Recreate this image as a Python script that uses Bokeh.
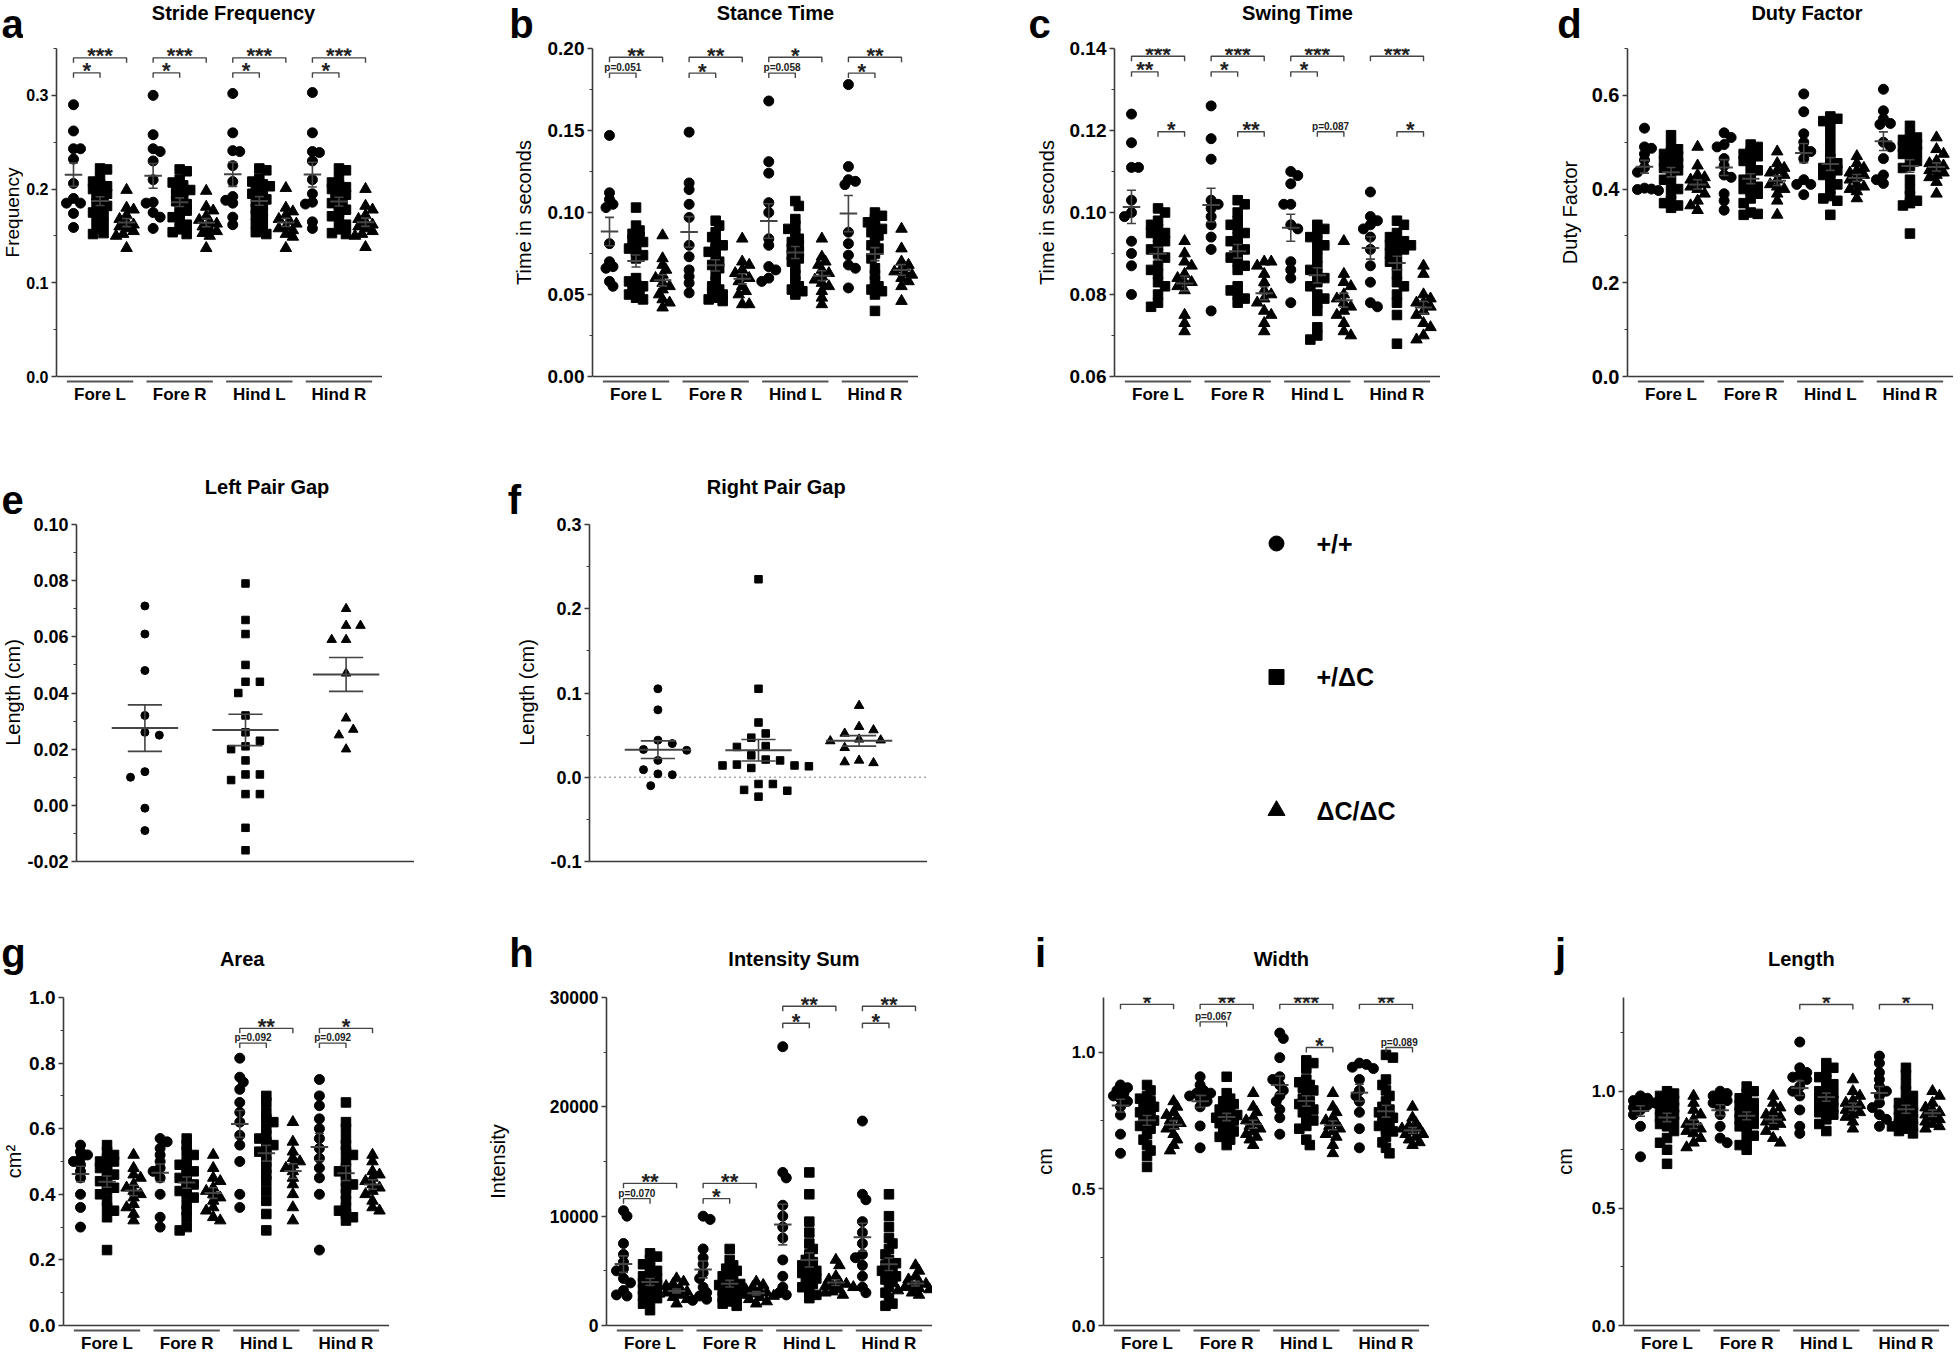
import numpy as np
from bokeh.plotting import figure
from bokeh.models import Range1d, FixedTicker, Span
from bokeh.layouts import row, column
from bokeh.core.properties import value
from bokeh.embed import file_html
from bokeh.resources import INLINE

FONT = "Liberation Sans"
GROUPS = ["Fore L", "Fore R", "Hind L", "Hind R"]
GENOTYPES = ["+/+", "+/ΔC", "ΔC/ΔC"]
MARKERS = ["circle", "square", "triangle"]

# ---------------- a: Stride Frequency ----------------
stride_wt = [
    [0.290, 0.262, 0.243, 0.243, 0.232, 0.206, 0.190, 0.185, 0.185, 0.174, 0.159],
    [0.300, 0.258, 0.243, 0.240, 0.230, 0.210, 0.186, 0.185, 0.175, 0.170, 0.158],
    [0.302, 0.260, 0.241, 0.240, 0.225, 0.208, 0.192, 0.188, 0.185, 0.170, 0.162],
    [0.303, 0.260, 0.240, 0.239, 0.230, 0.210, 0.195, 0.186, 0.184, 0.165, 0.158],
]
stride_het = [
    [0.222, 0.221, 0.212, 0.208, 0.205, 0.203, 0.200, 0.198, 0.195, 0.192, 0.188, 0.185, 0.182, 0.178, 0.175, 0.172, 0.168, 0.163, 0.158, 0.153, 0.152],
    [0.221, 0.219, 0.210, 0.207, 0.204, 0.201, 0.199, 0.197, 0.194, 0.190, 0.187, 0.184, 0.181, 0.177, 0.174, 0.170, 0.166, 0.162, 0.157, 0.154, 0.152],
    [0.222, 0.220, 0.211, 0.208, 0.205, 0.203, 0.201, 0.198, 0.195, 0.192, 0.189, 0.186, 0.183, 0.179, 0.176, 0.172, 0.168, 0.163, 0.158, 0.154, 0.152],
    [0.222, 0.220, 0.212, 0.207, 0.204, 0.202, 0.200, 0.197, 0.194, 0.191, 0.188, 0.185, 0.182, 0.178, 0.175, 0.171, 0.167, 0.162, 0.157, 0.153, 0.152],
]
stride_hom = [
    [0.199, 0.180, 0.178, 0.172, 0.168, 0.165, 0.162, 0.160, 0.158, 0.155, 0.152, 0.150, 0.137],
    [0.198, 0.181, 0.177, 0.171, 0.167, 0.165, 0.163, 0.160, 0.157, 0.155, 0.153, 0.150, 0.137],
    [0.201, 0.180, 0.176, 0.172, 0.168, 0.166, 0.163, 0.160, 0.158, 0.156, 0.152, 0.149, 0.137],
    [0.200, 0.182, 0.178, 0.172, 0.168, 0.165, 0.162, 0.160, 0.158, 0.155, 0.152, 0.150, 0.138],
]
stride_ticks = [0.0, 0.1, 0.2, 0.3]
stride_labels = ["0.0", "0.1", "0.2", "0.3"]
stride_sig = [(0, 0, 2, 0.340, "***"), (0, 0, 1, 0.324, "*"), (1, 0, 2, 0.340, "***"), (1, 0, 1, 0.324, "*"),
              (2, 0, 2, 0.340, "***"), (2, 0, 1, 0.324, "*"), (3, 0, 2, 0.340, "***"), (3, 0, 1, 0.324, "*")]

# ---------------- b: Stance Time ----------------
stance_wt = [
    [0.147, 0.112, 0.108, 0.105, 0.103, 0.081, 0.070, 0.067, 0.066, 0.058, 0.055],
    [0.149, 0.118, 0.114, 0.105, 0.097, 0.080, 0.073, 0.065, 0.061, 0.057, 0.051],
    [0.168, 0.131, 0.124, 0.106, 0.100, 0.084, 0.080, 0.067, 0.065, 0.060, 0.058],
    [0.178, 0.128, 0.120, 0.119, 0.117, 0.088, 0.081, 0.074, 0.068, 0.066, 0.054],
]
stance_het = [
    [0.103, 0.092, 0.089, 0.087, 0.085, 0.083, 0.082, 0.080, 0.078, 0.076, 0.074, 0.072, 0.060, 0.058, 0.056, 0.055, 0.053, 0.051, 0.050, 0.048, 0.047],
    [0.095, 0.092, 0.088, 0.085, 0.082, 0.080, 0.078, 0.076, 0.073, 0.070, 0.068, 0.066, 0.062, 0.058, 0.055, 0.053, 0.051, 0.050, 0.048, 0.047, 0.046],
    [0.107, 0.104, 0.096, 0.092, 0.090, 0.087, 0.084, 0.082, 0.080, 0.078, 0.076, 0.074, 0.072, 0.070, 0.066, 0.062, 0.058, 0.055, 0.053, 0.052, 0.050],
    [0.100, 0.098, 0.096, 0.094, 0.091, 0.090, 0.088, 0.086, 0.083, 0.080, 0.078, 0.075, 0.072, 0.066, 0.062, 0.058, 0.055, 0.053, 0.052, 0.050, 0.040],
]
stance_hom = [
    [0.086, 0.072, 0.068, 0.065, 0.062, 0.060, 0.057, 0.055, 0.053, 0.050, 0.047, 0.045, 0.042],
    [0.084, 0.070, 0.068, 0.065, 0.063, 0.061, 0.060, 0.058, 0.055, 0.052, 0.050, 0.044, 0.044],
    [0.084, 0.073, 0.070, 0.068, 0.065, 0.063, 0.061, 0.059, 0.057, 0.055, 0.052, 0.048, 0.044],
    [0.090, 0.078, 0.070, 0.068, 0.066, 0.064, 0.063, 0.062, 0.060, 0.058, 0.055, 0.046],
]
stance_ticks = [0.0, 0.05, 0.10, 0.15, 0.20]
stance_labels = ["0.00", "0.05", "0.10", "0.15", "0.20"]
stance_sig = [(0, 0, 2, 0.1947, "**"), (0, 0, 1, 0.1850, "p=0.051"), (1, 0, 2, 0.1947, "**"), (1, 0, 1, 0.1850, "*"),
              (2, 0, 2, 0.1947, "*"), (2, 0, 1, 0.1850, "p=0.058"), (3, 0, 2, 0.1947, "**"), (3, 0, 1, 0.1850, "*")]

# ---------------- c: Swing Time ----------------
swing_wt = [
    [0.124, 0.117, 0.111, 0.111, 0.103, 0.100, 0.099, 0.093, 0.090, 0.087, 0.080],
    [0.126, 0.118, 0.113, 0.103, 0.102, 0.101, 0.099, 0.097, 0.094, 0.091, 0.076],
    [0.110, 0.109, 0.107, 0.102, 0.102, 0.097, 0.096, 0.088, 0.086, 0.084, 0.078],
    [0.105, 0.099, 0.098, 0.097, 0.096, 0.094, 0.091, 0.087, 0.083, 0.078, 0.077],
]
swing_het = [
    [0.101, 0.100, 0.098, 0.097, 0.096, 0.095, 0.095, 0.094, 0.093, 0.092, 0.091, 0.090, 0.089, 0.087, 0.086, 0.085, 0.083, 0.082, 0.080, 0.078, 0.077],
    [0.103, 0.102, 0.100, 0.098, 0.097, 0.096, 0.095, 0.094, 0.093, 0.092, 0.091, 0.090, 0.089, 0.088, 0.087, 0.086, 0.082, 0.081, 0.080, 0.079, 0.078],
    [0.097, 0.096, 0.095, 0.094, 0.093, 0.092, 0.091, 0.089, 0.087, 0.086, 0.085, 0.084, 0.083, 0.082, 0.080, 0.079, 0.078, 0.076, 0.072, 0.070, 0.069],
    [0.098, 0.097, 0.095, 0.094, 0.093, 0.093, 0.092, 0.092, 0.091, 0.091, 0.090, 0.089, 0.088, 0.087, 0.085, 0.083, 0.082, 0.080, 0.078, 0.075, 0.068],
]
swing_hom = [
    [0.093, 0.090, 0.088, 0.087, 0.085, 0.084, 0.083, 0.083, 0.082, 0.081, 0.075, 0.073, 0.071],
    [0.088, 0.088, 0.087, 0.085, 0.083, 0.081, 0.080, 0.079, 0.078, 0.076, 0.075, 0.073, 0.071],
    [0.093, 0.085, 0.083, 0.082, 0.080, 0.079, 0.078, 0.077, 0.076, 0.075, 0.073, 0.071, 0.070],
    [0.087, 0.085, 0.080, 0.079, 0.078, 0.078, 0.077, 0.076, 0.075, 0.073, 0.072, 0.070, 0.069],
]
swing_ticks = [0.06, 0.08, 0.10, 0.12, 0.14]
swing_labels = ["0.06", "0.08", "0.10", "0.12", "0.14"]
swing_sig = [(0, 0, 2, 0.1381, "***"), (0, 0, 1, 0.1343, "**"), (0, 1, 2, 0.1197, "*"),
             (1, 0, 2, 0.1381, "***"), (1, 0, 1, 0.1343, "*"), (1, 1, 2, 0.1197, "**"),
             (2, 0, 2, 0.1381, "***"), (2, 0, 1, 0.1343, "*"), (2, 1, 2, 0.1197, "p=0.087"),
             (3, 0, 2, 0.1381, "***"), (3, 1, 2, 0.1197, "*")]

# ---------------- d: Duty Factor ----------------
duty_wt = [
    [0.530, 0.490, 0.487, 0.475, 0.462, 0.446, 0.436, 0.402, 0.400, 0.399, 0.397],
    [0.520, 0.510, 0.495, 0.490, 0.465, 0.450, 0.430, 0.425, 0.390, 0.375, 0.355],
    [0.603, 0.565, 0.518, 0.500, 0.487, 0.480, 0.465, 0.420, 0.410, 0.410, 0.388],
    [0.613, 0.567, 0.550, 0.540, 0.538, 0.500, 0.490, 0.465, 0.430, 0.420, 0.412],
]
duty_het = [
    [0.515, 0.495, 0.485, 0.480, 0.475, 0.470, 0.465, 0.460, 0.455, 0.450, 0.445, 0.440, 0.430, 0.420, 0.410, 0.400, 0.390, 0.375, 0.370, 0.365, 0.360],
    [0.495, 0.490, 0.480, 0.475, 0.470, 0.465, 0.460, 0.450, 0.440, 0.430, 0.420, 0.410, 0.405, 0.400, 0.395, 0.390, 0.380, 0.370, 0.350, 0.347, 0.345],
    [0.555, 0.550, 0.545, 0.540, 0.520, 0.500, 0.480, 0.465, 0.455, 0.450, 0.445, 0.440, 0.435, 0.430, 0.420, 0.410, 0.400, 0.385, 0.380, 0.375, 0.345],
    [0.535, 0.515, 0.510, 0.505, 0.500, 0.495, 0.490, 0.485, 0.480, 0.475, 0.470, 0.460, 0.450, 0.445, 0.420, 0.400, 0.385, 0.375, 0.370, 0.365, 0.305],
]
duty_hom = [
    [0.490, 0.450, 0.430, 0.425, 0.420, 0.415, 0.410, 0.405, 0.400, 0.390, 0.375, 0.365, 0.355],
    [0.480, 0.455, 0.445, 0.440, 0.435, 0.430, 0.420, 0.410, 0.405, 0.400, 0.390, 0.375, 0.345],
    [0.470, 0.455, 0.445, 0.440, 0.435, 0.430, 0.425, 0.420, 0.410, 0.405, 0.400, 0.395, 0.380],
    [0.510, 0.485, 0.475, 0.460, 0.455, 0.450, 0.445, 0.440, 0.435, 0.430, 0.425, 0.415, 0.390],
]
duty_ticks = [0.0, 0.2, 0.4, 0.6]
duty_labels = ["0.0", "0.2", "0.4", "0.6"]

# ---------------- e: Left Pair Gap ----------------
lgap_wt = [0.071, 0.061, 0.048, 0.032, 0.026, 0.025, 0.012, 0.010, -0.001, -0.009]
lgap_het = [0.079, 0.066, 0.061, 0.050, 0.044, 0.044, 0.040, 0.032, 0.026, 0.023, 0.021, 0.020, 0.016,
            0.011, 0.011, 0.009, 0.004, 0.004, -0.008, -0.016]
lgap_hom = [0.070, 0.064, 0.064, 0.059, 0.059, 0.047, 0.031, 0.027, 0.025, 0.020]
lgap_ticks = [-0.02, 0.0, 0.02, 0.04, 0.06, 0.08, 0.10]
lgap_labels = ["-0.02", "0.00", "0.02", "0.04", "0.06", "0.08", "0.10"]

# ---------------- f: Right Pair Gap ----------------
rgap_wt = [0.105, 0.080, 0.044, 0.040, 0.033, 0.032, 0.020, 0.009, 0.004, 0.003, -0.010]
rgap_het = [0.235, 0.105, 0.065, 0.052, 0.047, 0.037, 0.036, 0.026, 0.021, 0.020, 0.015, 0.014, 0.014,
            0.013, 0.011, -0.008, -0.008, -0.015, -0.016, -0.023]
rgap_hom = [0.085, 0.060, 0.056, 0.052, 0.045, 0.044, 0.043, 0.035, 0.020, 0.018, 0.017]
rgap_ticks = [-0.1, 0.0, 0.1, 0.2, 0.3]
rgap_labels = ["-0.1", "0.0", "0.1", "0.2", "0.3"]

# ---------------- g: Area ----------------
area_wt = [
    [0.55, 0.53, 0.52, 0.51, 0.50, 0.49, 0.47, 0.45, 0.40, 0.36, 0.30],
    [0.57, 0.56, 0.54, 0.52, 0.50, 0.48, 0.47, 0.45, 0.40, 0.33, 0.30],
    [0.815, 0.757, 0.742, 0.72, 0.68, 0.65, 0.62, 0.58, 0.55, 0.50, 0.40, 0.36],
    [0.75, 0.70, 0.67, 0.63, 0.60, 0.57, 0.54, 0.51, 0.48, 0.45, 0.40, 0.23],
]
area_het = [
    [0.55, 0.53, 0.52, 0.51, 0.50, 0.50, 0.49, 0.48, 0.47, 0.46, 0.45, 0.44, 0.43, 0.42, 0.41, 0.40, 0.38, 0.36, 0.35, 0.33, 0.23],
    [0.57, 0.55, 0.53, 0.52, 0.50, 0.49, 0.48, 0.47, 0.46, 0.45, 0.44, 0.43, 0.42, 0.41, 0.40, 0.39, 0.37, 0.35, 0.33, 0.30, 0.29],
    [0.70, 0.68, 0.65, 0.63, 0.62, 0.60, 0.58, 0.57, 0.56, 0.55, 0.54, 0.53, 0.52, 0.50, 0.48, 0.46, 0.44, 0.41, 0.38, 0.34, 0.29],
    [0.68, 0.62, 0.60, 0.57, 0.55, 0.53, 0.52, 0.50, 0.48, 0.47, 0.46, 0.44, 0.43, 0.42, 0.40, 0.38, 0.36, 0.35, 0.34, 0.33, 0.32],
]
area_hom = [
    [0.52, 0.48, 0.46, 0.45, 0.43, 0.42, 0.41, 0.40, 0.39, 0.37, 0.36, 0.34, 0.32],
    [0.52, 0.48, 0.45, 0.44, 0.42, 0.41, 0.40, 0.39, 0.38, 0.36, 0.35, 0.33, 0.32],
    [0.62, 0.56, 0.53, 0.51, 0.50, 0.49, 0.48, 0.47, 0.45, 0.43, 0.40, 0.36, 0.32],
    [0.52, 0.50, 0.47, 0.46, 0.45, 0.44, 0.43, 0.42, 0.41, 0.40, 0.38, 0.36, 0.35],
]
area_ticks = [0.0, 0.2, 0.4, 0.6, 0.8, 1.0]
area_labels = ["0.0", "0.2", "0.4", "0.6", "0.8", "1.0"]
area_sig = [(2, 0, 2, 0.906, "**"), (2, 0, 1, 0.861, "p=0.092"), (3, 0, 2, 0.906, "*"), (3, 0, 1, 0.861, "p=0.092")]

# ---------------- h: Intensity Sum ----------------
inten_wt = [
    [10500, 10000, 7500, 6500, 5800, 5200, 5000, 4300, 3900, 3200, 2800, 2700],
    [10000, 9700, 7000, 6200, 5600, 4800, 4300, 3500, 3000, 2700, 2400, 2300],
    [25500, 14000, 13500, 11000, 10000, 9000, 8000, 6000, 4500, 3500, 3000, 2800],
    [18700, 12000, 11500, 9500, 8500, 7500, 6500, 6200, 5500, 4500, 3500, 3000],
]
inten_het = [
    [6600, 6300, 6000, 5600, 5300, 5000, 4700, 4500, 4300, 4100, 3900, 3700, 3500, 3300, 3100, 2900, 2700, 2500, 2300, 2000, 1400],
    [7000, 6000, 5500, 5200, 5000, 4700, 4500, 4200, 4000, 3800, 3700, 3500, 3300, 3200, 3000, 2800, 2600, 2400, 2200, 2000, 1800],
    [14000, 12000, 9500, 8500, 7500, 7000, 6500, 6000, 5800, 5500, 5200, 5000, 4800, 4500, 4300, 4000, 3800, 3500, 3200, 2800, 2500],
    [12000, 10000, 9000, 8000, 7500, 7000, 6500, 6000, 5700, 5500, 5200, 5000, 4700, 4500, 4200, 4000, 3500, 3000, 2500, 2000, 1800],
]
inten_hom = [
    [4300, 4000, 3800, 3600, 3400, 3200, 3100, 3000, 2900, 2800, 2600, 2400, 2000],
    [4000, 3700, 3500, 3300, 3200, 3000, 2900, 2800, 2700, 2600, 2400, 2200, 2000],
    [6000, 5500, 4500, 4200, 4000, 3800, 3700, 3600, 3500, 3300, 3100, 3000, 2800],
    [5500, 5000, 4500, 4200, 4000, 3800, 3600, 3500, 3400, 3300, 3200, 3000, 2800],
]
inten_ticks = [0, 10000, 20000, 30000]
inten_labels = ["0", "10000", "20000", "30000"]
inten_sig = [(0, 0, 2, 13000, "**"), (0, 0, 1, 11600, "p=0.070"), (1, 0, 2, 13000, "**"), (1, 0, 1, 11600, "*"),
             (2, 0, 2, 29200, "**"), (2, 0, 1, 27650, "*"), (3, 0, 2, 29200, "**"), (3, 0, 1, 27650, "*")]

# ---------------- i: Width ----------------
width_wt = [
    [0.88, 0.87, 0.86, 0.85, 0.84, 0.83, 0.82, 0.80, 0.77, 0.70, 0.63],
    [0.91, 0.88, 0.86, 0.85, 0.85, 0.84, 0.83, 0.82, 0.80, 0.73, 0.65],
    [1.07, 1.05, 0.98, 0.91, 0.90, 0.88, 0.86, 0.84, 0.82, 0.79, 0.76, 0.70],
    [0.96, 0.955, 0.945, 0.94, 0.90, 0.86, 0.84, 0.82, 0.78, 0.72, 0.65],
]
width_het = [
    [0.88, 0.86, 0.84, 0.83, 0.82, 0.81, 0.80, 0.79, 0.78, 0.77, 0.76, 0.75, 0.74, 0.73, 0.72, 0.70, 0.68, 0.66, 0.64, 0.62, 0.58],
    [0.91, 0.85, 0.83, 0.82, 0.81, 0.80, 0.79, 0.78, 0.77, 0.77, 0.76, 0.75, 0.75, 0.74, 0.73, 0.72, 0.71, 0.70, 0.69, 0.68, 0.66],
    [0.97, 0.96, 0.94, 0.90, 0.89, 0.88, 0.87, 0.86, 0.85, 0.83, 0.82, 0.81, 0.80, 0.79, 0.78, 0.76, 0.75, 0.73, 0.72, 0.68, 0.66],
    [0.99, 0.98, 0.90, 0.88, 0.86, 0.84, 0.82, 0.80, 0.79, 0.78, 0.77, 0.76, 0.75, 0.74, 0.73, 0.72, 0.71, 0.69, 0.67, 0.65, 0.63],
]
width_hom = [
    [0.82, 0.80, 0.78, 0.77, 0.76, 0.75, 0.74, 0.73, 0.72, 0.70, 0.68, 0.66, 0.64],
    [0.85, 0.80, 0.78, 0.76, 0.75, 0.74, 0.73, 0.72, 0.71, 0.70, 0.69, 0.68, 0.66],
    [0.85, 0.80, 0.78, 0.76, 0.75, 0.74, 0.73, 0.72, 0.71, 0.70, 0.69, 0.66, 0.63],
    [0.80, 0.76, 0.74, 0.73, 0.72, 0.72, 0.71, 0.70, 0.70, 0.69, 0.68, 0.67, 0.66],
]
width_ticks = [0.0, 0.5, 1.0]
width_labels = ["0.0", "0.5", "1.0"]
width_sig = [(0, 0, 2, 1.175, "*"), (1, 0, 2, 1.175, "**"), (1, 0, 1, 1.111, "p=0.067"),
             (2, 0, 2, 1.175, "***"), (2, 1, 2, 1.017, "*"), (3, 0, 2, 1.175, "**"), (3, 1, 2, 1.017, "p=0.089")]

# ---------------- j: Length ----------------
length_wt = [
    [0.98, 0.97, 0.96, 0.95, 0.95, 0.94, 0.93, 0.92, 0.90, 0.85, 0.72],
    [1.00, 0.99, 0.98, 0.97, 0.96, 0.95, 0.93, 0.90, 0.85, 0.80, 0.78],
    [1.21, 1.10, 1.08, 1.07, 1.06, 1.05, 1.02, 1.00, 0.98, 0.92, 0.85, 0.82],
    [1.15, 1.12, 1.08, 1.05, 1.02, 1.00, 0.98, 0.95, 0.93, 0.90, 0.88, 0.85],
]
length_het = [
    [1.00, 0.99, 0.98, 0.97, 0.96, 0.95, 0.94, 0.93, 0.92, 0.91, 0.90, 0.89, 0.88, 0.87, 0.86, 0.85, 0.83, 0.80, 0.78, 0.75, 0.69],
    [1.02, 1.00, 0.99, 0.97, 0.96, 0.95, 0.94, 0.93, 0.92, 0.91, 0.90, 0.89, 0.88, 0.87, 0.86, 0.85, 0.83, 0.81, 0.79, 0.77, 0.75],
    [1.12, 1.10, 1.08, 1.06, 1.05, 1.03, 1.01, 1.00, 0.99, 0.98, 0.97, 0.96, 0.95, 0.94, 0.93, 0.92, 0.91, 0.90, 0.88, 0.86, 0.83],
    [1.10, 1.07, 1.03, 1.00, 0.98, 0.96, 0.95, 0.94, 0.93, 0.92, 0.91, 0.90, 0.89, 0.88, 0.87, 0.86, 0.85, 0.85, 0.84, 0.83, 0.82],
]
length_hom = [
    [0.98, 0.95, 0.92, 0.90, 0.88, 0.86, 0.85, 0.84, 0.83, 0.82, 0.80, 0.78, 0.76],
    [0.98, 0.95, 0.93, 0.91, 0.90, 0.89, 0.88, 0.87, 0.86, 0.85, 0.83, 0.80, 0.78],
    [1.05, 1.00, 0.98, 0.96, 0.95, 0.94, 0.93, 0.92, 0.91, 0.90, 0.89, 0.87, 0.84],
    [1.00, 0.98, 0.95, 0.93, 0.92, 0.91, 0.90, 0.89, 0.88, 0.87, 0.86, 0.85, 0.84],
]
length_ticks = [0.0, 0.5, 1.0]
length_labels = ["0.0", "0.5", "1.0"]
length_sig = [(2, 0, 2, 1.37, "*"), (3, 0, 2, 1.37, "*")]

AXIS_COLOR = "#3a3a3a"
PAD = 8          # px of frame kept below the x axis line (room for the group underlines)
VIS = 328        # visible value-axis height of the grouped panels
X0 = 8           # page x where the layout starts


def swarm(vals, ppx, ppy, diam, mind_f, step_f):
    vals = np.asarray(vals, float)
    order = np.argsort(-vals, kind="stable")
    px_list, py_list = [], []
    off = np.zeros(len(vals))
    step = diam * step_f
    mind = diam * mind_f
    side = 1
    for i in order:
        y = vals[i] * ppy
        cands = [0.0]
        for m in range(1, 40):
            cands += [side * m * step, -side * m * step]
        chosen = 0.0
        for c in cands:
            if all((c - a) ** 2 + (y - b) ** 2 >= mind ** 2 for a, b in zip(px_list, py_list)):
                chosen = c
                break
        if chosen != 0:
            side = -side
        px_list.append(chosen)
        py_list.append(y)
        off[i] = chosen / ppx
    return off


def grouped_cols(wt, het, hom):
    cols = []
    for g in range(4):
        for k, data in enumerate((wt, het, hom)):
            cols.append((g * 3 + k, data[g], MARKERS[k]))
    return cols


def single_cols(wt, het, hom):
    return [(k, d, MARKERS[k]) for k, d in enumerate((wt, het, hom))]


def make_panel(cols, yr, ticks, tick_labels, minor, sig, L, FW, T, FH, B, tick_fs,
               grouped=True, diam=10, zero_line=False):
    y0, y1 = yr
    if grouped:
        xr = (-0.64, 11.64)
        ystart = y0 - PAD * (y1 - y0) / VIS
        mind_f, step_f = 0.6, 0.35
    else:
        xr = (-0.68, 2.68)
        ystart = y0
        mind_f, step_f = 1.55, 0.9
    p = figure(frame_width=FW, frame_height=FH, x_range=Range1d(*xr), y_range=Range1d(ystart, y1),
               min_border_left=L, min_border_right=0, min_border_top=T, min_border_bottom=B,
               output_backend="svg", toolbar_location=None, tools="")
    p.outline_line_color = None
    p.grid.visible = False
    p.background_fill_color = "white"
    p.border_fill_color = "white"

    ppx = FW / (xr[1] - xr[0])
    ppy = FH / (y1 - ystart)

    for ax in (p.xaxis[0], p.yaxis[0]):
        ax.axis_line_color = AXIS_COLOR
        ax.axis_line_width = 1.6
        ax.major_tick_line_color = AXIS_COLOR
        ax.major_tick_line_width = 1.5
        ax.minor_tick_line_color = AXIS_COLOR
        ax.minor_tick_line_width = 1.2
        ax.major_label_text_font = FONT
        ax.major_label_text_font_style = "bold"
        ax.major_label_text_color = "black"
    p.yaxis.ticker = FixedTicker(ticks=ticks, minor_ticks=minor)
    p.yaxis.major_label_overrides = dict(zip(ticks, tick_labels))
    p.yaxis.major_label_text_font_size = tick_fs
    p.yaxis.major_tick_out = 5
    p.yaxis.major_tick_in = 0
    p.yaxis.minor_tick_out = 3
    p.yaxis.minor_tick_in = 0
    p.yaxis.major_label_standoff = 3
    p.xaxis.major_tick_out = 0
    p.xaxis.major_tick_in = 0

    if grouped:
        p.yaxis.bounds = (y0, y1)
        centers = [1, 4, 7, 10]
        p.xaxis.ticker = FixedTicker(ticks=centers, minor_ticks=[])
        p.xaxis.major_label_overrides = dict(zip(centers, GROUPS))
        p.xaxis.major_label_text_font_size = "17px"
        p.xaxis.major_label_standoff = 0
        p.xaxis.axis_line_color = None
        p.add_layout(Span(location=y0, dimension="width", line_color=AXIS_COLOR, line_width=1.6))
        uy = y0 - 5.0 / ppy
        p.segment([c - 1.25 for c in centers], [uy] * 4, [c + 1.25 for c in centers], [uy] * 4,
                  line_color="#555555", line_width=1.8)
    else:
        p.xaxis.ticker = FixedTicker(ticks=[], minor_ticks=[])

    if zero_line:
        p.add_layout(Span(location=0, dimension="width", line_color="#555555", line_width=1.5,
                          line_dash="1 4", level="underlay"))

    for marker in MARKERS:
        xs, ys = [], []
        for (pos, vals, m) in cols:
            if m != marker:
                continue
            off = swarm(vals, ppx, ppy, diam, mind_f, step_f)
            xs += list(pos + off)
            ys += list(vals)
        size = diam if marker == "circle" else (diam - 0.5 if marker == "square" else diam + 1.5)
        p.scatter(xs, ys, marker=marker, size=size, fill_color="black", line_color="black")

    mx0, mx1, my, sx, sy0, sy1, cx0, cx1, cy = [], [], [], [], [], [], [], [], []
    for (pos, vals, m) in cols:
        v = np.asarray(vals, float)
        mean = v.mean()
        sem = v.std(ddof=1) / np.sqrt(len(v))
        mx0.append(pos - 0.33); mx1.append(pos + 0.33); my.append(mean)
        sx.append(pos); sy0.append(mean - sem); sy1.append(mean + sem)
        for yy in (mean - sem, mean + sem):
            cx0.append(pos - 0.17); cx1.append(pos + 0.17); cy.append(yy)
    p.segment(mx0, my, mx1, my, line_color="#444444", line_width=2)
    p.segment(sx, sy0, sx, sy1, line_color="#444444", line_width=1.6)
    p.segment(cx0, cy, cx1, cy, line_color="#444444", line_width=1.6)

    if sig:
        tick = 5.0 / ppy
        bxs, bys, tx, ty, tt, ptx, pty, ptt = [], [], [], [], [], [], [], []
        for (g, i, j, yv, txt) in sig:
            x0 = g * 3 + i
            x1 = g * 3 + j
            bxs.append([x0, x0, x1, x1])
            bys.append([yv - tick, yv, yv, yv - tick])
            if txt.startswith("p"):
                ptx.append((x0 + x1) / 2); pty.append(yv); ptt.append(txt)
            else:
                tx.append((x0 + x1) / 2); ty.append(yv); tt.append(txt)
        p.multi_line(bxs, bys, line_color="#444444", line_width=1.4)
        if tt:
            p.text(tx, ty, text=tt, text_font=value(FONT), text_font_style="bold",
                   text_font_size="22px", text_align="center", text_baseline="middle",
                   y_offset=-2, text_color="#222222")
        if ptt:
            p.text(ptx, pty, text=ptt, text_font=value(FONT), text_font_style="bold",
                   text_font_size="10px", text_align="center", text_baseline="middle",
                   y_offset=-5.5, text_color="#222222")
    return p


def textfig(width, height, items):
    """items: (x, y_from_top, text, size, style, angle) in this figure's own pixels; y is the text middle"""
    f = figure(width=int(width), height=int(height), x_range=Range1d(0, width), y_range=Range1d(0, height),
               min_border=0, x_axis_type=None, y_axis_type=None, output_backend="svg",
               toolbar_location=None, tools="")
    f.outline_line_color = None
    f.grid.visible = False
    for (x, y, txt, size, style, angle) in items:
        f.text([x], [height - y], text=[txt], text_font=value(FONT), text_font_style=style,
               text_font_size=size, text_align="center", text_baseline="middle", angle=angle,
               text_color="black")
    return f


def build_row(specs, top, header_h, T, FH, B, letter_mid, title_mid, ylab_mid, extra=None):
    """specs: dicts with panel, X (page x of frame), FW, Lt, letter, lx, title, ylabel, yx, yfs"""
    row_h = header_h + T + FH + B
    cur = X0
    kids = []
    for s in specs:
        strip_w = s["X"] - s["Lt"] - cur
        strip = textfig(strip_w, row_h, [
            (s["lx"] - cur, letter_mid - top, s["letter"], "40px", "bold", 0),
            (s["yx"] - cur, ylab_mid - top, s["ylabel"], s["yfs"], "normal", np.pi / 2),
        ])
        head = textfig(s["Lt"] + s["FW"], header_h, [
            (s["Lt"] + s["FW"] / 2, title_mid - top, s["title"], "20px", "bold", 0),
        ])
        kids += [strip, column(head, s["panel"])]
        cur = s["X"] + s["FW"]
    if extra is not None:
        kids.append(extra(cur, row_h))
    return row(*kids)


GFH = VIS + PAD

# ---------------- row 1 (page y 0 .. 414) ----------------
pa = make_panel(grouped_cols(stride_wt, stride_het, stride_hom), (0, 0.35), stride_ticks, stride_labels,
                [0.05, 0.15, 0.25, 0.35], stride_sig, 32, 326, 11, GFH, 30, "16px")
pb = make_panel(grouped_cols(stance_wt, stance_het, stance_hom), (0, 0.20), stance_ticks, stance_labels,
                [0.025, 0.075, 0.125, 0.175], stance_sig, 47, 326, 11, GFH, 30, "19px")
pc = make_panel(grouped_cols(swing_wt, swing_het, swing_hom), (0.06, 0.14), swing_ticks, swing_labels,
                [0.07, 0.09, 0.11, 0.13], swing_sig, 47, 326, 11, GFH, 30, "19px")
pd = make_panel(grouped_cols(duty_wt, duty_het, duty_hom), (0, 0.70), duty_ticks, duty_labels,
                [0.1, 0.3, 0.5, 0.7], [], 38, 326, 11, GFH, 30, "20px")
row1 = build_row([
    dict(panel=pa, X=63, FW=326, Lt=32, letter="a", lx=20, title="Stride Frequency", ylabel="Frequency", yx=20, yfs="19px"),
    dict(panel=pb, X=598, FW=326, Lt=47, letter="b", lx=528, title="Stance Time", ylabel="Time in seconds", yx=530, yfs="20px"),
    dict(panel=pc, X=1119, FW=326, Lt=47, letter="c", lx=1045, title="Swing Time", ylabel="Time in seconds", yx=1052, yfs="20px"),
    dict(panel=pd, X=1631, FW=326, Lt=38, letter="d", lx=1574, title="Duty Factor", ylabel="Duty Factor", yx=1574, yfs="20px"),
], top=0, header_h=37, T=11, FH=GFH, B=30, letter_mid=23, title_mid=12, ylab_mid=212)

# ---------------- row 2 (page y 414 .. 901) ----------------
pe = make_panel(single_cols(lgap_wt, lgap_het, lgap_hom), (-0.02, 0.10), lgap_ticks, lgap_labels,
                [-0.01, 0.01, 0.03, 0.05, 0.07, 0.09], [], 51, 338, 11, 337, 40, "18px", grouped=False, diam=8)
pf = make_panel(single_cols(rgap_wt, rgap_het, rgap_hom), (-0.1, 0.3), rgap_ticks, rgap_labels,
                [-0.05, 0.05, 0.15, 0.25], [], 41, 338, 11, 337, 40, "18px", grouped=False, diam=8, zero_line=True)

LEG_MARK_X = 1282        # page x of the legend markers
LEG_TEXT_DX = 40
LEG_ROWS_Y = (543, 810)  # page y of first and last legend rows
ROW2_TOP = 414


def legend_fig(cur, row_h):
    width = 560
    mx = LEG_MARK_X - cur
    spacing = (LEG_ROWS_Y[1] - LEG_ROWS_Y[0]) / (len(GENOTYPES) - 1)
    y_top = -(LEG_ROWS_Y[0] - ROW2_TOP) / spacing
    y_bot = y_top + row_h / spacing
    leg = figure(width=width, height=row_h, x_range=Range1d(-mx, width - mx), y_range=Range1d(y_bot, y_top),
                 min_border=0, output_backend="svg", toolbar_location=None, tools="",
                 x_axis_type=None, y_axis_type=None)
    leg.outline_line_color = None
    leg.grid.visible = False
    idx = list(range(len(GENOTYPES)))
    for k, m in enumerate(MARKERS):
        leg.scatter([0], [idx[k]], marker=m, size=15 if m != "triangle" else 17,
                    fill_color="black", line_color="black")
    leg.text([LEG_TEXT_DX] * 3, idx, text=GENOTYPES, text_font=value(FONT), text_font_style="bold",
             text_font_size="25px", text_align="left", text_baseline="middle", text_color="black")
    return leg


row2 = build_row([
    dict(panel=pe, X=83, FW=338, Lt=51, letter="e", lx=20, title="Left Pair Gap", ylabel="Length (cm)", yx=20, yfs="20px"),
    dict(panel=pf, X=595, FW=338, Lt=41, letter="f", lx=521, title="Right Pair Gap", ylabel="Length (cm)", yx=533, yfs="20px"),
], top=ROW2_TOP, header_h=99, T=11, FH=337, B=40, letter_mid=499, title_mid=486, ylab_mid=692, extra=legend_fig)

# ---------------- row 3 (page y 901 .. 1352) ----------------
pg = make_panel(grouped_cols(area_wt, area_het, area_hom), (0, 1.0), area_ticks, area_labels,
                [0.1, 0.3, 0.5, 0.7, 0.9], area_sig, 36, 326, 11, GFH, 18, "19px")
ph = make_panel(grouped_cols(inten_wt, inten_het, inten_hom), (0, 30000), inten_ticks, inten_labels,
                [5000, 15000, 25000], inten_sig, 59, 326, 11, GFH, 18, "17.5px")
pi_ = make_panel(grouped_cols(width_wt, width_het, width_hom), (0, 1.2), width_ticks, width_labels,
                 [0.25, 0.75], width_sig, 34, 326, 11, GFH, 18, "17px")
pj = make_panel(grouped_cols(length_wt, length_het, length_hom), (0, 1.4), length_ticks, length_labels,
                [0.25, 0.75, 1.25], length_sig, 34, 326, 11, GFH, 18, "17px")
row3 = build_row([
    dict(panel=pg, X=70, FW=326, Lt=36, letter="g", lx=21, title="Area", ylabel="cm²", yx=21, yfs="20px"),
    dict(panel=ph, X=612, FW=326, Lt=59, letter="h", lx=528, title="Intensity Sum", ylabel="Intensity", yx=504, yfs="20px"),
    dict(panel=pi_, X=1108, FW=326, Lt=34, letter="i", lx=1046, title="Width", ylabel="cm", yx=1050, yfs="20px"),
    dict(panel=pj, X=1627, FW=326, Lt=34, letter="j", lx=1565, title="Length", ylabel="cm", yx=1569, yfs="20px"),
], top=901, header_h=85, T=11, FH=GFH, B=18, letter_mid=952, title_mid=958, ylab_mid=1161)

layout = column(row1, row2, row3)
open("out.html", "w").write(file_html(layout, INLINE))
